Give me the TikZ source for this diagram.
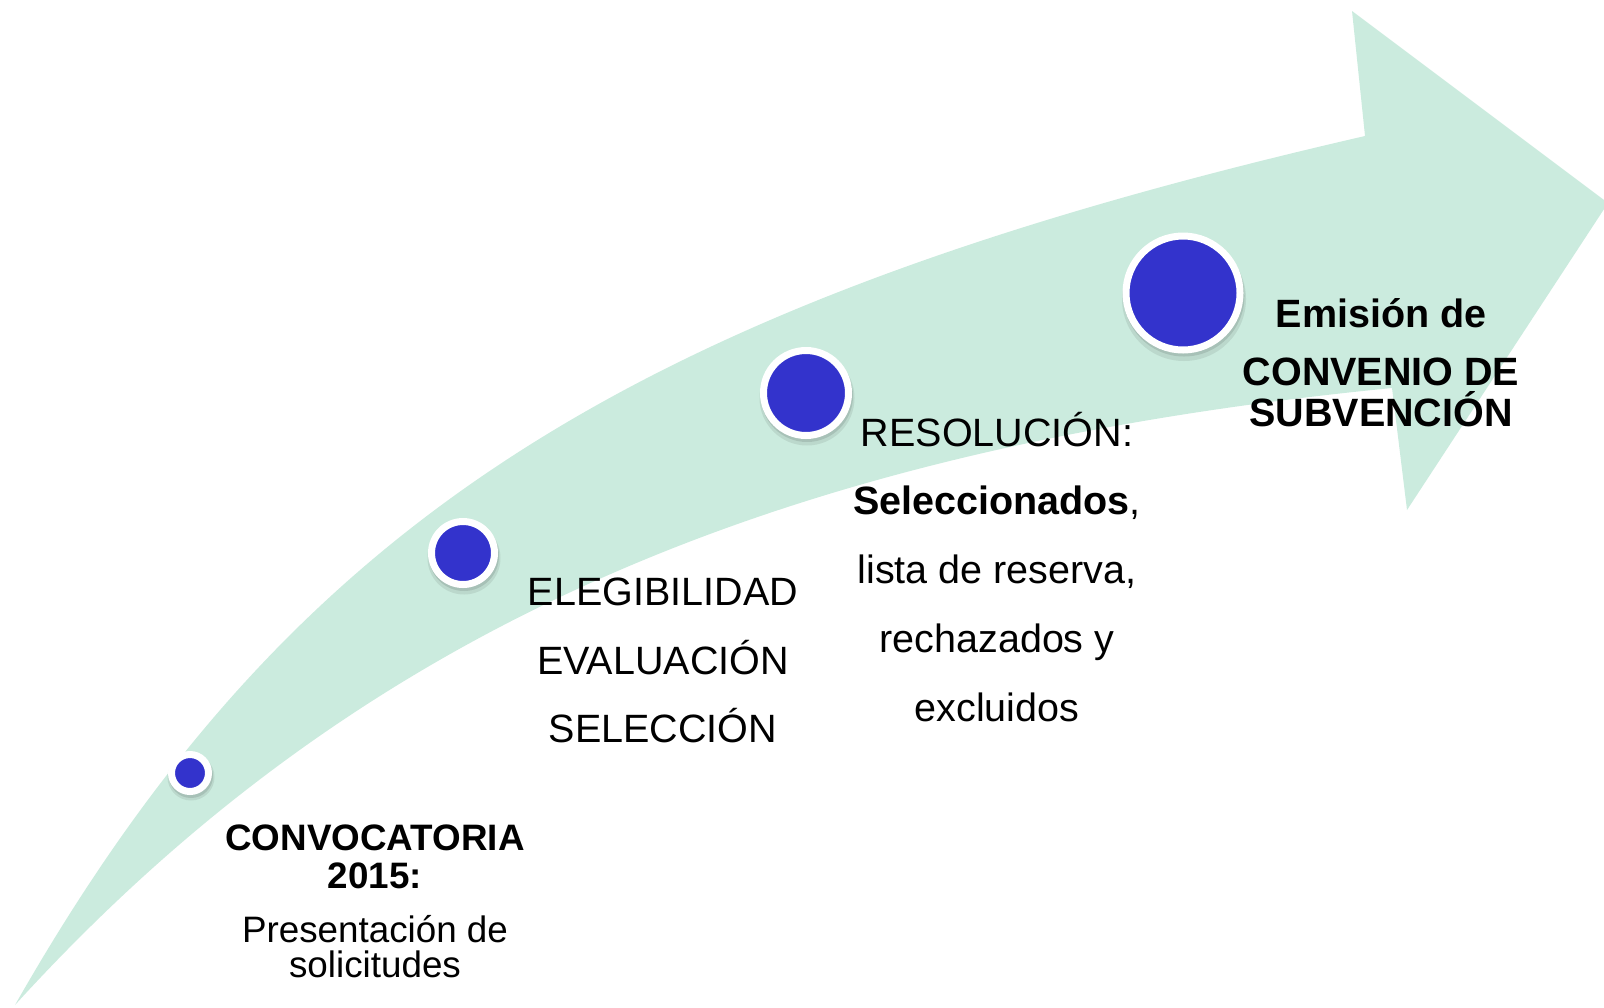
\documentclass[tikz,border=0pt]{standalone}
\usepackage{fontspec}
\setmainfont{Liberation Sans}
\definecolor{mint}{RGB}{203,235,222}
\definecolor{dotblue}{RGB}{51,51,204}
\begin{document}
\begin{tikzpicture}[x=0.5pt,y=-0.5pt,
  dot/.style={circle,fill=dotblue,draw=white,line width=3.5pt,inner sep=0pt},
  shade1/.style={fill=black,opacity=0.08},
  shade2/.style={fill=black,opacity=0.10},
  big/.style={font=\fontsize{19.75}{24}\selectfont,anchor=base,inner sep=0pt},
  small/.style={font=\fontsize{18.4}{22}\selectfont,anchor=base,inner sep=0pt}]
\useasboundingbox (0,0) rectangle (1604,1007);
\begin{scope}
  \clip (0,0) rectangle (1604,1007);
  \fill[mint] (15,1005) .. controls (289,524) and (626,306) .. (1365,136)
     -- (1352,11) -- (1608,203) -- (1407,510) -- (1392,388)
     .. controls (764,450) and (351,636) .. (15,1005) -- cycle;
\end{scope}
% circle positions
\coordinate (p1) at (190,773);
\coordinate (p2) at (463,553);
\coordinate (p3) at (806,393);
\coordinate (p4) at (1183,293);
% soft shadows
\fill[shade1] (p1) ++(1,4) circle[radius=23.5];
\fill[shade2] (p1) ++(1,3) circle[radius=22];
\fill[shade1] (p2) ++(1,5) circle[radius=36.5];
\fill[shade2] (p2) ++(1,3) circle[radius=35];
\fill[shade1] (p3) ++(1,5) circle[radius=47.5];
\fill[shade2] (p3) ++(1,3) circle[radius=46];
\fill[shade1] (p4) ++(1,6) circle[radius=62];
\fill[shade2] (p4) ++(1,3) circle[radius=60.5];
% dots
\node[dot,minimum size=18.5pt] (c1) at (p1) {};
\node[dot,minimum size=31.5pt] (c2) at (p2) {};
\node[dot,minimum size=42.5pt] (c3) at (p3) {};
\node[dot,minimum size=57pt] (c4) at (p4) {};
% texts
\node[small] (t1a) at (375,850) {\textbf{CONVOCATORIA}};
\node[small] (t1b) at (375,888) {\textbf{2015:}};
\node[small] (t1c) at (375,942) {Presentación de};
\node[small] (t1d) at (375,977) {solicitudes};
\node[big] (t2a) at (663,605) {ELEGIBILIDAD};
\node[big] (t2b) at (663,674) {EVALUACIÓN};
\node[big] (t2c) at (663,742) {SELECCIÓN};
\node[big] (t3a) at (997,446) {RESOLUCIÓN:};
\node[big] (t3b) at (997,514) {\textbf{Seleccionados},};
\node[big] (t3c) at (997,583) {lista de reserva,};
\node[big] (t3d) at (997,652) {rechazados y};
\node[big] (t3e) at (997,721) {excluidos};
\node[big] (t4a) at (1381,327) {\textbf{Emisión de}};
\node[big] (t4b) at (1381,385) {\textbf{CONVENIO DE}};
\node[big] (t4c) at (1381,426) {\textbf{SUBVENCIÓN}};
\end{tikzpicture}
\end{document}
